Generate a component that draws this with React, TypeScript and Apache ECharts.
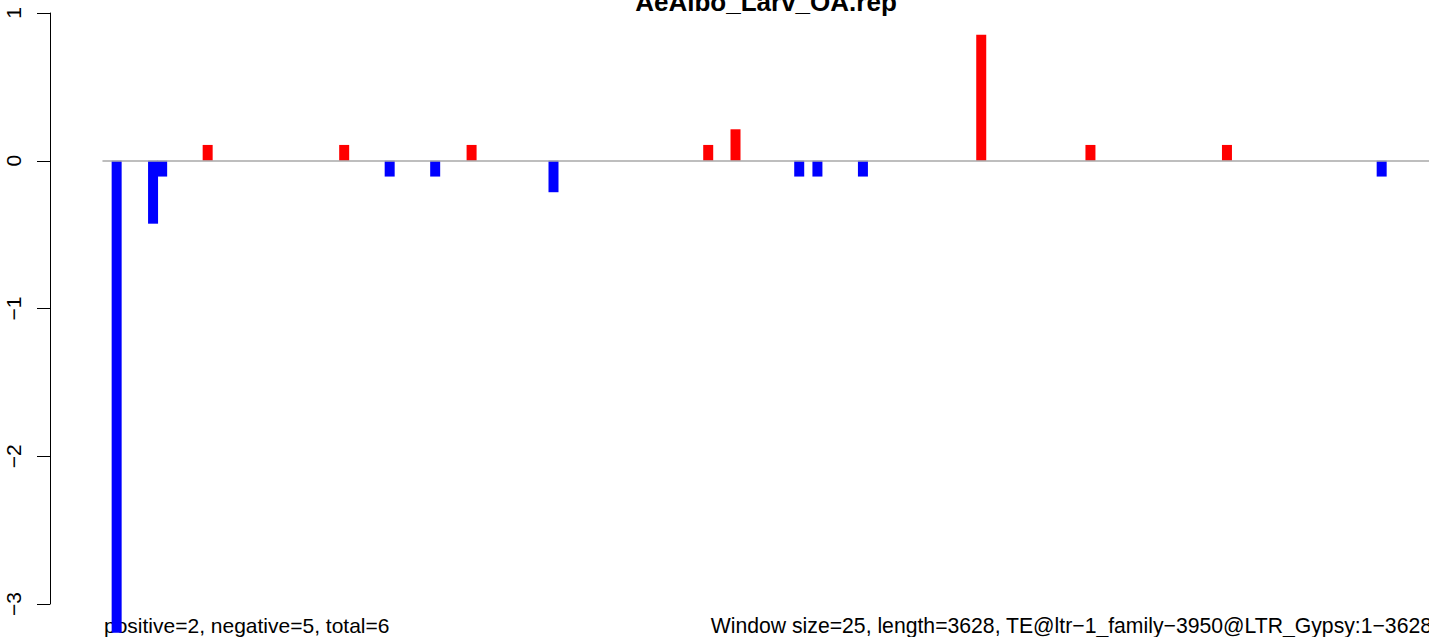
import React, { useEffect, useRef } from "react";
import * as echarts from "echarts";

const titleText = "AeAlbo_Larv_OA.rep";
const leftNote = "positive=2, negative=5, total=6";
const rightNote = "Window size=25, length=3628, TE@ltr−1_family−3950@LTR_Gypsy:1−3628";

const windowIndex = [1, 5, 6, 11, 26, 31, 36, 40, 49, 66, 69, 76, 78, 83, 96, 108, 123, 140];
const scores = [
  -3.195, -0.426, -0.107, 0.107, 0.107, -0.107, -0.107, 0.107, -0.213, 0.107, 0.213, -0.107,
  -0.107, -0.107, 0.852, 0.107, 0.107, -0.107,
];
const yTicks = [-3, -2, -1, 0, 1];

const FONT = "'Liberation Sans', Arial, Helvetica, sans-serif";

export default function App() {
  const ref = useRef<HTMLDivElement>(null);

  useEffect(() => {
    document.body.style.margin = "0";
    const chart = echarts.init(ref.current!, null, { renderer: "svg" });
    const data = windowIndex.map((x, k) => ({
      value: [x, scores[k]],
      itemStyle: { color: scores[k] >= 0 ? "#FF0000" : "#0000FF" },
    }));
    chart.setOption({
      animation: false,
      backgroundColor: "#FFFFFF",
      grid: { left: 103, right: 0, top: 13, bottom: 33, containLabel: false, outerBoundsMode: "none" },
      xAxis: {
        type: "value",
        min: -0.5,
        max: 145.2,
        z: 3,
        axisLine: { show: true, onZero: true, lineStyle: { color: "#A9A9A9", width: 1.5 } },
        axisTick: { show: false },
        axisLabel: { show: false },
        splitLine: { show: false },
      },
      yAxis: {
        type: "value",
        min: yTicks[0],
        max: yTicks[yTicks.length - 1],
        interval: 1,
        offset: 53,
        axisLine: { show: true, onZero: false, lineStyle: { color: "#000000", width: 1 } },
        axisTick: { show: true, length: 13, inside: false, lineStyle: { color: "#000000", width: 1 } },
        splitLine: { show: false },
        axisLabel: {
          rotate: 90,
          margin: 26,
          fontSize: 21,
          fontFamily: FONT,
          color: "#000000",
          formatter: (v: number) => String(v).replace("-", "−"),
        },
      },
      series: [
        {
          type: "bar",
          data,
          barWidth: 10,
          clip: false,
          z: 2,
        },
      ],
      graphic: [
        {
          type: "text",
          x: 766,
          y: 2,
          style: {
            text: titleText,
            font: `bold 26px ${FONT}`,
            fill: "#000000",
            align: "center",
            verticalAlign: "middle",
            textAlign: "center",
            textVerticalAlign: "middle",
          },
        },
        {
          type: "text",
          x: 104,
          y: 625,
          style: {
            text: leftNote,
            font: `21px ${FONT}`,
            fill: "#000000",
            align: "left",
            verticalAlign: "middle",
            textAlign: "left",
            textVerticalAlign: "middle",
          },
        },
        {
          type: "text",
          x: 1432,
          y: 625,
          style: {
            text: rightNote,
            font: `21.2px ${FONT}`,
            fill: "#000000",
            align: "right",
            verticalAlign: "middle",
            textAlign: "right",
            textVerticalAlign: "middle",
          },
        },
      ],
    });
    return () => chart.dispose();
  }, []);

  return (
    <div
      ref={ref}
      style={{ position: "absolute", left: 0, top: 0, width: 1429, height: 637, overflow: "hidden" }}
    />
  );
}
